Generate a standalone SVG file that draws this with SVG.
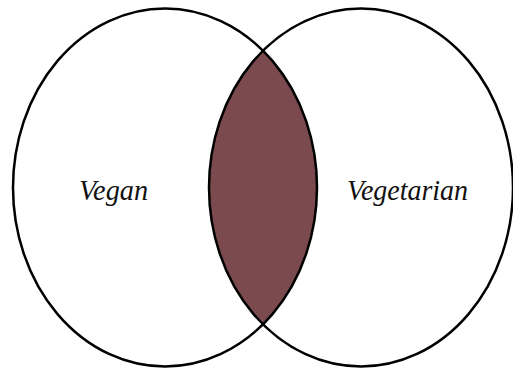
<svg xmlns="http://www.w3.org/2000/svg" width="513" height="369" viewBox="0 0 513 369">
<style>
.c{fill:none;stroke:#000;stroke-width:2.5}
.t{font-family:"Liberation Serif","Times New Roman",serif;font-style:italic;font-size:29px;fill:#111}
</style>
<defs>
<clipPath id="clipL"><ellipse cx="165" cy="187.5" rx="152" ry="179"/></clipPath>
</defs>
<rect width="513" height="369" fill="#fff"/>
<g id="intersection">
<ellipse cx="361" cy="187.5" rx="152" ry="179" fill="#7b4a4e" clip-path="url(#clipL)"/>
</g>
<g id="vegan">
<ellipse class="c" cx="165" cy="187.5" rx="152" ry="179"/>
<text class="t" x="79" y="199.5" textLength="69" lengthAdjust="spacingAndGlyphs">Vegan</text>
</g>
<g id="vegetarian">
<ellipse class="c" cx="361" cy="187.5" rx="152" ry="179"/>
<text class="t" x="347" y="199.5" textLength="121" lengthAdjust="spacingAndGlyphs">Vegetarian</text>
</g>
</svg>
